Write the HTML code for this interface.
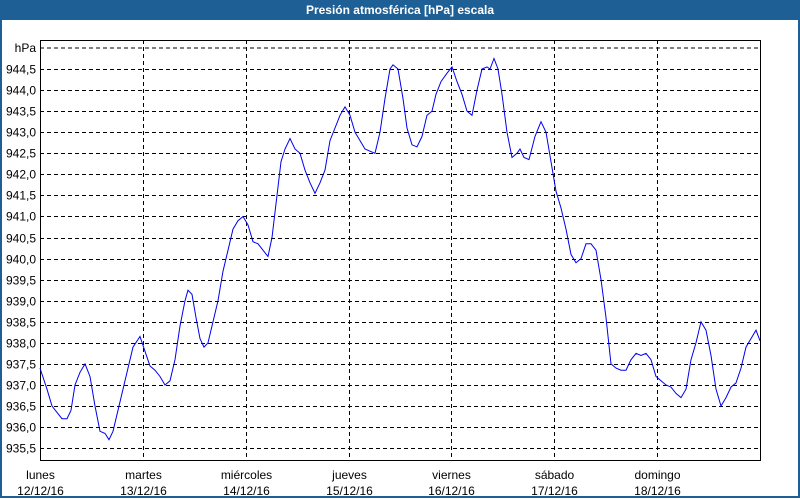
<!DOCTYPE html>
<html><head><meta charset="utf-8"><style>
html,body{margin:0;padding:0;background:#fff}
body{width:800px;height:500px;overflow:hidden;position:relative;font-family:"Liberation Sans",sans-serif}
#frame{position:absolute;left:0;top:0;width:796px;height:496px;border:2px solid #1e6096;border-top:none}
#title{position:absolute;left:0;top:0;width:800px;height:20px;background:#1e6096;color:#fff;font-weight:bold;font-size:12px;text-align:center;line-height:21px}
svg{position:absolute;left:0;top:0}
text{font-family:"Liberation Sans",sans-serif;font-size:12px;fill:#000}
</style></head><body>
<div id="frame"></div>
<div id="title">Presión atmosférica [hPa] escala</div>
<svg id="s" width="800" height="500"></svg>
<script>
var s=document.getElementById('s'),h='';
function Y(v){return 69+(944.5-v)*42.13;}
// horizontal grid
h+='<line x1="40" y1="48" x2="760" y2="48" stroke="#000" stroke-dasharray="4,3"/>';
h+='<text x="36" y="52" text-anchor="end">hPa</text>';
for(var i=0;i<=18;i++){var v=944.5-i*0.5,y=Math.round(Y(v))+0.5;
h+='<line x1="40" y1="'+y+'" x2="760" y2="'+y+'" stroke="#000" stroke-dasharray="4,3"/>';
h+='<text x="36" y="'+(y+4)+'" text-anchor="end">'+v.toFixed(1).replace('.',',')+'</text>';}
var days=['lunes','martes','miércoles','jueves','viernes','sábado','domingo'];
for(var d=0;d<7;d++){var x=Math.round(40+d*102.86)+0.5;
if(d>0)h+='<line x1="'+x+'" y1="40" x2="'+x+'" y2="460" stroke="#000" stroke-dasharray="4,3"/>';
h+='<text x="'+x+'" y="479" text-anchor="middle">'+days[d]+'</text>';
h+='<text x="'+x+'" y="495" text-anchor="middle">'+(12+d)+'/12/16</text>';}
h+='<rect x="40.5" y="40.5" width="720" height="420" fill="none" stroke="#000"/>';
var p=[40,937.4,47,936.9,52,936.5,57,936.35,62,936.2,67,936.2,71,936.4,75,937.0,80,937.3,85,937.5,90,937.2,95,936.5,100,935.9,105,935.85,109,935.7,113,935.9,118,936.4,123,936.9,128,937.4,133,937.9,140,938.15,145,937.8,150,937.45,155,937.35,160,937.2,165,937.0,170,937.1,175,937.6,180,938.4,185,939.0,188,939.25,192,939.15,196,938.6,200,938.1,204,937.9,208,938.0,213,938.5,218,939.0,223,939.7,228,940.2,233,940.7,238,940.9,243,941.0,248,940.8,253,940.4,258,940.35,263,940.2,268,940.05,272,940.5,276,941.3,281,942.3,285,942.6,290,942.85,295,942.6,300,942.5,305,942.1,310,941.8,315,941.55,320,941.8,325,942.1,330,942.8,335,943.1,340,943.4,345,943.6,350,943.4,355,943.0,360,942.8,365,942.6,370,942.55,375,942.5,380,943.0,385,943.8,390,944.5,393,944.6,398,944.5,403,943.8,407,943.1,412,942.7,417,942.65,422,942.9,427,943.4,432,943.5,436,943.9,441,944.2,447,944.4,452,944.55,457,944.2,462,943.9,467,943.5,472,943.4,477,944.0,482,944.5,487,944.55,490,944.5,494,944.75,498,944.5,502,943.9,507,943.0,512,942.4,517,942.5,520,942.6,524,942.4,529,942.35,535,942.9,541,943.25,546,943.0,551,942.3,556,941.6,561,941.2,566,940.7,571,940.1,576,939.9,581,940.0,586,940.35,591,940.35,596,940.2,601,939.5,606,938.6,611,937.5,616,937.4,621,937.35,626,937.35,631,937.6,636,937.75,641,937.7,646,937.75,651,937.6,656,937.2,661,937.1,666,937.0,671,936.95,676,936.8,681,936.7,686,936.9,691,937.6,696,938.0,701,938.5,706,938.3,711,937.7,716,936.9,721,936.5,726,936.7,731,936.95,736,937.05,741,937.4,746,937.9,751,938.1,756,938.3,760,938.05];
var pts=[];for(var k=0;k<p.length;k+=2)pts.push(p[k]+','+Y(p[k+1]).toFixed(1));
h+='<polyline points="'+pts.join(' ')+'" fill="none" stroke="#0000ee" stroke-width="1"/>';
s.innerHTML=h;
</script>
</body></html>
